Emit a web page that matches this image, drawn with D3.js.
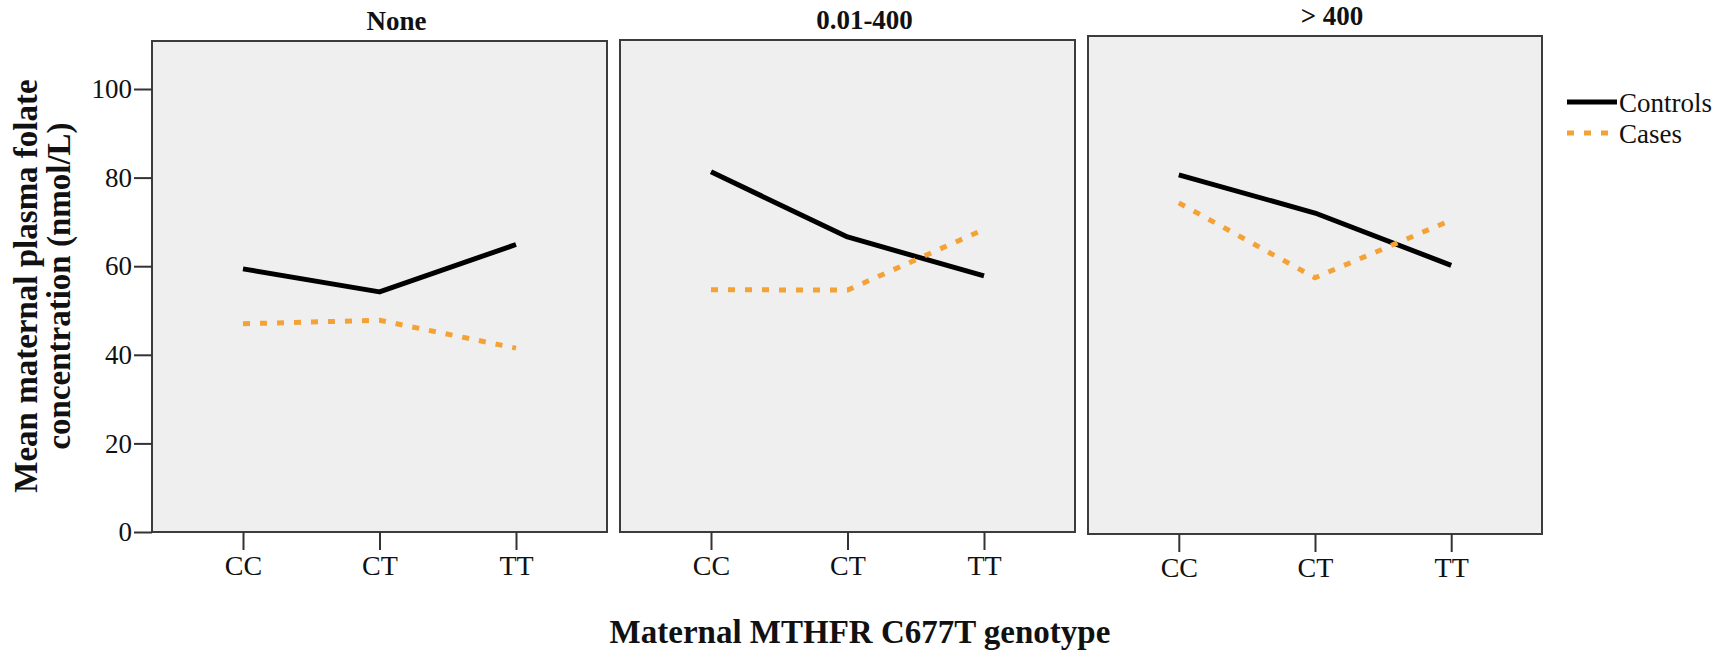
<!DOCTYPE html>
<html>
<head>
<meta charset="utf-8">
<script src="https://cdn.jsdelivr.net/npm/d3@7"></script>
<style>
  body { margin: 0; background: #fff; }
  svg { display: block; }
  text { font-family: "Liberation Serif", "Times New Roman", serif; fill: #111; }
</style>
</head>
<body>
<svg id="chart" width="1723" height="655"></svg>
<script>
// Genotype categories on the x axis of each panel
const genotypes = ["CC", "CT", "TT"];
// Folic acid intake groups (one panel each)
const panelTitles = ["None", "0.01-400", "> 400"];
// Mean maternal plasma folate (nmol/L) per panel, per genotype
const controls = [
  [59.4, 54.2, 64.9],
  [81.3, 66.6, 57.8],
  [80.6, 72.0, 60.2]
];
const cases = [
  [47.0, 47.8, 41.5],
  [54.7, 54.6, 68.3],
  [74.3, 57.4, 70.4]
];
const yTicks = [0, 20, 40, 60, 80, 100];
const seriesNames = ["Controls", "Cases"];

const yTitleLines = ["Mean maternal plasma folate", "concentration (nmol/L)"];
const xTitle = "Maternal MTHFR C677T genotype";

// ---- layout ----
const panels = [
  { x0: 152, x1: 607, top: 41, bottom: 532 },
  { x0: 620, x1: 1075, top: 40, bottom: 532 },
  { x0: 1088, x1: 1542, top: 36, bottom: 534 }
];
const serif = '"Liberation Serif", "Times New Roman", serif';
const orange = "#f4a236";
const styles = {
  Controls: { stroke: "#000", width: 5, dash: null },
  Cases: { stroke: orange, width: 5, dash: "7,10" }
};

const svg = d3.select("#chart");
const y = d3.scaleLinear().domain([0, 100]).range([532, 89]);

const seriesData = { Controls: controls, Cases: cases };

panels.forEach((p, pi) => {
  const g = svg.append("g");
  const x = d3.scalePoint().domain(genotypes).range([p.x0, p.x1]).padding(2 / 3);

  // panel background and frame
  g.append("rect")
    .attr("x", p.x0).attr("y", p.top)
    .attr("width", p.x1 - p.x0).attr("height", p.bottom - p.top)
    .attr("fill", "#efefef")
    .attr("stroke", "#3c3c3c").attr("stroke-width", 2);

  // panel title
  g.append("text")
    .attr("x", (p.x0 + p.x1) / 2 + 17).attr("y", p.top - 11)
    .attr("text-anchor", "middle")
    .style("font-family", serif)
    .attr("font-size", 27).attr("font-weight", "bold")
    .text(panelTitles[pi]);

  // x axis
  const xa = g.append("g")
    .attr("transform", `translate(0,${p.bottom})`)
    .call(d3.axisBottom(x).tickSize(18).tickPadding(5));
  xa.select(".domain").remove();
  xa.selectAll(".tick line").attr("stroke", "#333").attr("stroke-width", 2);
  xa.selectAll(".tick text")
    .style("font-family", serif).attr("font-size", 28).attr("fill", "#222");

  // y axis only on the first panel
  if (pi === 0) {
    const ya = g.append("g")
      .attr("transform", `translate(${p.x0},0)`)
      .call(d3.axisLeft(y).tickValues(yTicks).tickSize(18).tickPadding(2));
    ya.select(".domain").remove();
    ya.selectAll(".tick line").attr("stroke", "#333").attr("stroke-width", 2);
    ya.selectAll(".tick text")
      .style("font-family", serif).attr("font-size", 27).attr("fill", "#222");
  }

  // series lines
  const line = d3.line()
    .x((d, i) => x(genotypes[i]))
    .y(d => y(d));

  ["Controls", "Cases"].forEach(name => {
    const s = styles[name];
    g.append("path")
      .datum(seriesData[name][pi])
      .attr("d", line)
      .attr("fill", "none")
      .attr("stroke", s.stroke)
      .attr("stroke-width", s.width)
      .attr("stroke-dasharray", s.dash)
      .attr("stroke-linejoin", "round");
  });
});

// y axis title (two lines, rotated)
yTitleLines.forEach((t, i) => {
  svg.append("text")
    .attr("transform", `translate(${37 + i * 33},286) rotate(-90)`)
    .attr("text-anchor", "middle")
    .style("font-family", serif)
    .attr("font-size", 33).attr("font-weight", "bold")
    .text(t);
});

// x axis title
svg.append("text")
  .attr("x", 860).attr("y", 643)
  .attr("text-anchor", "middle")
  .style("font-family", serif)
  .attr("font-size", 33).attr("font-weight", "bold")
  .text(xTitle);

// legend
const legend = svg.append("g").attr("transform", "translate(1567,102)");
seriesNames.forEach((name, i) => {
  const s = styles[name];
  const row = legend.append("g").attr("transform", `translate(0,${i * 31})`);
  row.append("line")
    .attr("x1", 0).attr("x2", 50).attr("y1", 0).attr("y2", 0)
    .attr("stroke", s.stroke).attr("stroke-width", s.width)
    .attr("stroke-dasharray", s.dash);
  row.append("text")
    .attr("x", 52).attr("y", 10)
    .style("font-family", serif)
    .attr("font-size", 27)
    .attr("fill", "#222")
    .text(name);
});
</script>
</body>
</html>
